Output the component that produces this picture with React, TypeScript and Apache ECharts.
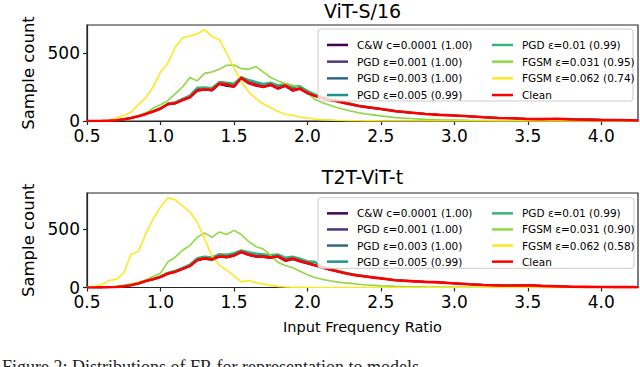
import React, { useEffect, useRef } from "react";
import * as echarts from "echarts";

const FONT = "DejaVu Sans";

// Input Frequency Ratio (x positions of the histogram bins)
const X = [
  0.5, 0.55, 0.6, 0.65, 0.7, 0.75, 0.8, 0.85, 0.9, 0.95,
  1.0, 1.05, 1.1, 1.15, 1.2, 1.25, 1.3, 1.35, 1.4, 1.45,
  1.5, 1.55, 1.6, 1.65, 1.7, 1.75, 1.8, 1.85, 1.9, 1.95,
  2.0, 2.05, 2.1, 2.15, 2.2, 2.25, 2.3, 2.35, 2.4, 2.45,
  2.5,
  2.6, 2.7, 2.8, 2.9, 3.0, 3.1, 3.2, 3.3, 3.4, 3.5, 3.6, 3.7, 3.8, 3.9, 4.0, 4.1, 4.2, 4.25,
];

const X_TICKS = [0.5, 1.0, 1.5, 2.0, 2.5, 3.0, 3.5, 4.0];
const Y_TICKS = [0, 500];

const NAMES_TOP = [
  "C&W c=0.0001 (1.00)",
  "PGD ε=0.001 (1.00)",
  "PGD ε=0.003 (1.00)",
  "PGD ε=0.005 (0.99)",
  "PGD ε=0.01 (0.99)",
  "FGSM ε=0.031 (0.95)",
  "FGSM ε=0.062 (0.74)",
  "Clean",
];
const NAMES_BOTTOM = [
  "C&W c=0.0001 (1.00)",
  "PGD ε=0.001 (1.00)",
  "PGD ε=0.003 (1.00)",
  "PGD ε=0.005 (0.99)",
  "PGD ε=0.01 (0.99)",
  "FGSM ε=0.031 (0.90)",
  "FGSM ε=0.062 (0.58)",
  "Clean",
];
const COLORS = ["#440154", "#443983", "#31688e", "#21918c", "#35b779", "#90d743", "#fde725", "#ff0000"];

// ViT-S/16
const TOP_CW = [0,0,1,3,6,12,21,34,50,68, 88,120,128,150,172,220,230,222,270,255, 250,312,275,258,248,262,236,255,220,235, 203,183,168,153,143,130,120,108,100,93, 86, 70,60,51,44,39,34,27,22,19,15,13,15,12,10,8,7,5,4];
const TOP_PGD001 = [0,0,1,3,6,12,22,35,51,70, 92,122,132,152,178,222,235,226,272,262, 255,312,282,268,252,265,242,258,230,236, 206,186,170,156,146,133,121,111,102,96, 87, 73,61,53,45,40,34,28,23,19,16,14,15,12,10,8,7,5,4];
const TOP_PGD003 = [0,0,1,3,7,13,23,36,52,72, 94,124,134,156,180,228,238,232,278,268, 262,318,288,272,258,270,248,262,236,240, 210,190,174,158,148,135,124,112,104,97, 89, 74,62,53,46,41,35,29,23,20,16,14,16,12,10,8,7,5,4];
const TOP_PGD005 = [0,0,1,3,7,13,24,37,54,74, 96,128,138,160,185,240,245,238,285,278, 270,322,298,282,268,280,258,270,248,250, 220,195,178,162,150,138,126,114,106,98, 90, 75,63,54,46,41,35,29,23,20,16,14,16,12,10,8,7,5,4];
const TOP_PGD01 = [0,0,1,3,7,14,25,38,56,76, 98,130,140,165,190,248,250,245,290,285, 278,325,305,290,275,285,265,275,255,258, 225,198,180,165,152,140,128,116,107,99, 91, 76,64,55,47,42,36,30,24,21,17,15,17,13,11,9,7,5,4];
const TOP_FGSM031 = [0,0,1,3,6,12,20,35,60,95, 120,150,200,250,320,295,350,360,380,410, 412,385,380,400,360,320,295,275,262,240, 205,160,135,118,100,85,72,60,52,45, 38, 25,18,12,9,7,5,4,3,2,2,1,1,1,0,0,0,0,0];
const TOP_FGSM062 = [0,0,2,6,22,40,66,120,170,250, 360,425,540,610,625,640,672,620,600,500, 390,290,215,165,125,100,70,50,42,28, 22,15,10,8,5,4,2,2,1,1, 0, 0,0,0,0,0,0,0,0,0,0,0,0,0,0,0,0,0,0];
const TOP_CLEAN = [0,0,1,3,6,12,22,35,52,70, 90,125,130,155,175,225,232,228,275,270, 252,318,280,265,250,268,240,262,226,238, 205,185,170,155,145,132,122,110,103,95, 88, 72,62,52,45,40,35,28,22,20,15,14,16,12,10,8,7,5,4];

// T2T-ViT-t
const BOT_CW = [0,0,1,2,4,10,19,34,53,68, 88,116,132,156,182,230,246,236,262,255, 270,300,276,262,260,252,262,226,240,222, 205,188,170,152,138,123,110,100,92,84, 77, 61,54,47,43,34,27,22,18,16,18,13,10,6,5,4,3,3,2];
const BOT_PGD001 = [0,0,1,2,4,10,20,35,54,70, 90,118,134,158,184,234,249,240,266,260, 274,305,280,266,263,256,266,230,245,226, 208,190,171,154,139,124,111,101,93,85, 78, 62,55,48,44,35,28,22,18,17,18,14,10,6,5,4,3,3,2];
const BOT_PGD003 = [0,0,1,2,5,11,21,36,56,72, 93,122,138,163,190,242,255,246,274,268, 282,312,290,275,272,265,275,240,255,235, 215,196,176,158,143,127,114,104,95,87, 79, 63,56,49,45,36,29,23,19,17,19,14,10,6,5,4,3,3,2];
const BOT_PGD005 = [0,0,1,2,5,11,22,37,58,74, 95,125,142,168,196,250,262,255,282,278, 292,318,300,288,282,275,282,252,262,245, 222,215,180,162,146,130,116,106,97,88, 80, 64,57,50,45,37,30,24,19,18,19,15,11,7,5,4,3,3,2];
const BOT_PGD01 = [0,0,1,2,5,12,23,38,60,76, 98,128,146,172,200,255,268,262,290,285, 298,322,306,295,288,280,288,260,268,250, 230,225,184,165,148,132,118,107,98,89, 81, 65,58,51,46,38,31,24,20,18,20,15,11,7,5,4,3,3,2];
const BOT_FGSM031 = [0,1,3,6,10,20,31,45,65,95, 123,220,260,320,360,430,469,430,477,455, 490,455,395,350,330,275,215,188,170,140, 110,85,70,58,48,40,35,28,22,18, 14, 10,7,5,4,3,2,2,1,1,1,0,0,0,0,0,0,0,0];
const BOT_FGSM062 = [3,10,25,60,70,125,285,310,460,590, 690,770,752,700,650,560,420,270,190,150, 100,48,60,42,30,18,10,4,2,1, 1,0,0,0,0,0,0,0,0,0, 0, 0,0,0,0,0,0,0,0,0,0,0,0,0,0,0,0,0,0];
const BOT_CLEAN = [0,0,1,2,4,10,20,35,55,70, 90,120,135,160,185,236,250,240,268,262, 275,308,282,268,265,258,268,232,248,228, 210,192,172,155,140,125,112,102,94,85, 78, 62,55,48,44,35,28,22,18,17,19,14,10,6,5,4,3,3,2];

const TOP_DATA = [TOP_CW, TOP_PGD001, TOP_PGD003, TOP_PGD005, TOP_PGD01, TOP_FGSM031, TOP_FGSM062, TOP_CLEAN];
const BOT_DATA = [BOT_CW, BOT_PGD001, BOT_PGD003, BOT_PGD005, BOT_PGD01, BOT_FGSM031, BOT_FGSM062, BOT_CLEAN];

function makeSeries(names: string[], data: number[][], idx: number) {
  return names.map((name, k) => ({
    type: "line",
    name,
    xAxisIndex: idx,
    yAxisIndex: idx,
    data: X.map((x, i) => [x, data[k][i]]),
    showSymbol: false,
    symbol: "none",
    lineStyle: { color: COLORS[k], width: k === 7 ? 2.6 : 1.6 },
    itemStyle: { color: COLORS[k] },
    z: 2 + k,
  }));
}

function makeAxes(idx: number, ymax: number) {
  const x = {
    type: "value",
    gridIndex: idx,
    min: 0.5,
    max: 4.25,
    splitLine: { show: false },
    axisLine: { show: true, onZero: false, lineStyle: { color: "#262626", width: 1.2 } },
    axisTick: { show: true, length: 4, customValues: X_TICKS, lineStyle: { color: "#262626", width: 1.2 } },
    axisLabel: {
      customValues: X_TICKS,
      formatter: (v: number) => v.toFixed(1),
      fontSize: 17,
      fontFamily: FONT,
      color: "#000",
      margin: 6,
    },
  };
  const y = {
    type: "value",
    gridIndex: idx,
    min: 0,
    max: ymax,
    name: "Sample count",
    nameLocation: "middle",
    nameGap: 49,
    nameRotate: 90,
    nameTextStyle: { fontSize: 16.5, fontFamily: FONT, color: "#000" },
    splitLine: { show: false },
    axisLine: { show: true, lineStyle: { color: "#262626", width: 1.2 } },
    axisTick: { show: true, length: 4, customValues: Y_TICKS, lineStyle: { color: "#262626", width: 1.2 } },
    axisLabel: {
      customValues: Y_TICKS,
      fontSize: 17,
      fontFamily: FONT,
      color: "#000",
      margin: 7,
    },
  };
  return { x, y };
}

function makeLegend(names: string[], left: number, top: number, lh: number) {
  return {
    orient: "vertical",
    left,
    top,
    data: names,
    icon: "rect",
    itemWidth: 21,
    itemHeight: 2.5,
    itemGap: 0,
    selectedMode: false,
    z: 100,
    textStyle: {
      fontSize: 10.5,
      fontFamily: FONT,
      color: "#000",
      lineHeight: lh,
      padding: [0, 0, 0, 4],
    },
  };
}

export default function App() {
  const ref = useRef<HTMLDivElement>(null);
  useEffect(() => {
    const chart = echarts.init(ref.current!, null, { renderer: "svg" });
    const a0 = makeAxes(0, 706);
    const a1 = makeAxes(1, 811);
    const option: any = {
      animation: false,
      backgroundColor: "#fff",
      grid: [
        { left: 87, right: 2, top: 25, height: 96, show: true, borderColor: "#262626", borderWidth: 1.2, backgroundColor: "transparent" },
        { left: 87, right: 2, top: 193, height: 94.5, show: true, borderColor: "#262626", borderWidth: 1.2, backgroundColor: "transparent" },
      ],
      xAxis: [a0.x, a1.x],
      yAxis: [a0.y, a1.y],
      legend: [
        makeLegend(NAMES_TOP.slice(0, 4), 322, 31.6, 16.7),
        makeLegend(NAMES_TOP.slice(4), 487, 31.6, 16.7),
        makeLegend(NAMES_BOTTOM.slice(0, 4), 322, 200.3, 16.1),
        makeLegend(NAMES_BOTTOM.slice(4), 487, 200.3, 16.1),
      ],
      graphic: [
        { type: "rect", z: 50, shape: { x: 318, y: 29, width: 315, height: 72, r: 3 }, style: { fill: "rgba(255,255,255,0.8)", stroke: "#cccccc", lineWidth: 1 } },
        { type: "rect", z: 50, shape: { x: 318, y: 197.7, width: 316, height: 70.6, r: 3 }, style: { fill: "rgba(255,255,255,0.8)", stroke: "#cccccc", lineWidth: 1 } },
        { type: "text", z: 50, x: 362.5, y: 11, style: { text: "ViT-S/16", fontSize: 19, fontFamily: FONT, fill: "#000", textAlign: "center", textVerticalAlign: "middle" } },
        { type: "text", z: 50, x: 362.5, y: 177, style: { text: "T2T-ViT-t", fontSize: 19, fontFamily: FONT, fill: "#000", textAlign: "center", textVerticalAlign: "middle" } },
        { type: "text", z: 50, x: 362.5, y: 327, style: { text: "Input Frequency Ratio", fontSize: 14.5, fontFamily: FONT, fill: "#000", textAlign: "center", textVerticalAlign: "middle" } },
        { type: "text", z: 50, x: 2, y: 358, style: { text: "Figure 2: Distributions of FR for representation to models", fontSize: 18, fontFamily: "Liberation Serif", fill: "#222", textAlign: "left", textVerticalAlign: "top" } },
      ],
      series: [...makeSeries(NAMES_TOP, TOP_DATA, 0), ...makeSeries(NAMES_BOTTOM, BOT_DATA, 1)],
    };
    chart.setOption(option);
    return () => chart.dispose();
  }, []);
  return <div ref={ref} style={{ position: "absolute", left: 0, top: 0, width: 640, height: 367 }} />;
}
